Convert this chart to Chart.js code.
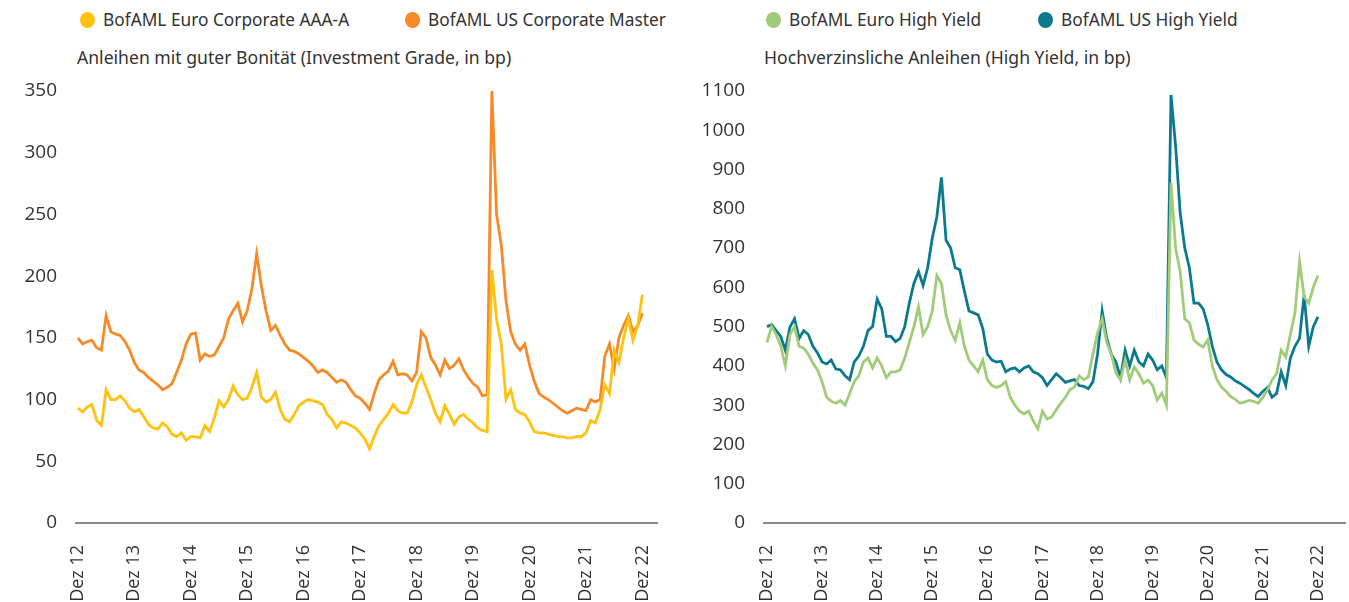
<!DOCTYPE html>
<html lang="de">
<head>
<meta charset="utf-8">
<script src="https://cdn.jsdelivr.net/npm/chart.js@4.4.0/dist/chart.umd.min.js"></script>
<style>
  body { margin: 0; width: 1349px; height: 602px; background: #fff; position: relative; overflow: hidden;
         font-family: "Noto Sans", sans-serif; color: #333; }
  canvas { position: absolute; top: 0; }
  .item { position: absolute; top: 8px; display: flex; align-items: center; font-size: 17.3px; white-space: nowrap; }
  .dot { width: 15px; height: 16px; border-radius: 50%; margin-right: 8px; }
  .sub { position: absolute; top: 45px; font-size: 17.6px; white-space: nowrap; }
</style>
</head>
<body>
<div class="item" style="left:80px"><span class="dot" style="background:#FFC20E"></span>BofAML Euro Corporate AAA-A</div>
<div class="item" style="left:405px"><span class="dot" style="background:#F58A26"></span>BofAML US Corporate Master</div>
<div class="sub" style="left:77px">Anleihen mit guter Bonität (Investment Grade, in bp)</div>
<div class="item" style="left:766px"><span class="dot" style="background:#A0CB78"></span>BofAML Euro High Yield</div>
<div class="item" style="left:1038px"><span class="dot" style="background:#0C7A8E"></span>BofAML US High Yield</div>
<div class="sub" style="left:764px">Hochverzinsliche Anleihen (High Yield, in bp)</div>
<canvas id="igChart" width="680" height="602" style="left:0"></canvas>
<canvas id="hyChart" width="661" height="602" style="left:688px"></canvas>
<script>
// x = months since Dez 12, one value per month (Dez 12 ... Dez 22)
const tickMonths = [0, 12, 24, 36, 48, 60, 72, 84, 96, 108, 120];
const tickLabels = ['Dez 12', 'Dez 13', 'Dez 14', 'Dez 15', 'Dez 16', 'Dez 17', 'Dez 18', 'Dez 19', 'Dez 20', 'Dez 21', 'Dez 22'];

const euroIG = [
  93, 90, 94, 96, 83, 79, 108, 100, 100, 103, 99, 93,
  90, 92, 86, 80, 77, 76, 81, 78, 72, 70, 73, 67,
  70, 70, 69, 79, 74, 85, 99, 94, 100, 111, 104, 100,
  101, 110, 122, 102, 98, 100, 106, 92, 84, 82, 88, 95,
  98, 100, 99, 98, 96, 88, 84, 77, 82, 81, 79, 77,
  73, 68, 60, 70, 79, 84, 89, 96, 91, 89, 89, 98,
  112, 120, 110, 100, 89, 82, 95, 88, 80, 86, 88, 84,
  81, 77, 75, 74, 205, 165, 145, 100, 108, 92, 89, 88,
  82, 74, 73, 73, 72, 71, 70, 70, 69, 69, 70, 70,
  73, 83, 81, 92, 112, 105, 140, 130, 150, 165, 148, 160,
  185
];
const usIG = [
  150, 145, 147, 148, 142, 140, 168, 155, 153, 152, 147, 140,
  130, 124, 122, 118, 115, 112, 108, 110, 113, 122, 132, 145,
  153, 154, 132, 137, 135, 136, 143, 150, 165, 172, 178, 163,
  172, 190, 218, 192, 172, 156, 160, 152, 145, 140, 139, 137,
  134, 131, 127, 122, 124, 122, 118, 114, 116, 114, 108, 103,
  101, 97, 92, 105, 116, 120, 123, 131, 120, 121, 120, 115,
  122, 155, 150, 134, 128, 120, 132, 125, 128, 133, 124, 118,
  113, 110, 103, 104, 350, 250, 225, 180, 155, 145, 140, 145,
  128, 115, 105, 102, 100, 97, 94, 91, 89, 91, 93, 92,
  91, 100, 98, 100, 135, 145, 125, 150, 160, 168, 155, 160,
  170
];
const euroHY = [
  460, 500, 480, 450, 400, 480, 500, 450, 445, 430, 407, 390,
  360, 320, 310, 305, 312, 300, 330, 360, 375, 410, 420, 395,
  420, 400, 370, 385, 385, 390, 420, 460, 500, 550, 480, 500,
  540, 630, 610, 530, 490, 465, 510, 450, 415, 400, 385, 415,
  365, 350, 345, 350, 360, 320, 300, 285, 278, 285, 260, 240,
  285, 265, 270, 288, 305, 320, 340, 346, 375, 365, 372, 430,
  484, 520, 460, 430, 382, 364, 415, 364, 397, 380, 356, 364,
  350, 313, 331, 300, 866, 700, 640, 520, 510, 466, 455, 448,
  466, 400, 365, 346, 335, 322, 315, 305, 308, 312, 310, 305,
  320, 339, 364, 380, 440, 423, 480, 535, 665, 576, 560, 600,
  630
];
const usHY = [
  500, 505, 490, 475, 440, 499, 520, 470, 490, 480, 450, 433,
  410, 405, 415, 392, 390, 375, 365, 410, 425, 450, 490, 500,
  570, 545, 475, 475, 462, 470, 500, 560, 610, 640, 605, 650,
  725, 780, 880, 720, 700, 650, 645, 590, 540, 535, 530, 495,
  430, 415, 410, 412, 385, 392, 395, 385, 395, 400, 385, 380,
  370, 350, 365, 380, 370, 358, 362, 365, 350, 348, 342, 360,
  430, 540, 470, 430, 410, 370, 440, 400, 440, 410, 400, 430,
  415, 390, 400, 370, 1090, 960, 790, 700, 650, 560, 560, 545,
  505, 450, 410, 390, 378, 372, 362, 356, 348, 340, 330, 322,
  335, 345, 320, 330, 385, 350, 420, 450, 470, 580, 450, 500,
  525
];

const textColor = '#333';

function toPoints(values) {
  return values.map((v, i) => ({ x: i, y: v }));
}

// keep the chart area where the reference has it
function noExtraPadding(scale) {
  scale.paddingLeft = 0;
  scale.paddingRight = 0;
  scale.paddingTop = 0;
  scale.paddingBottom = 0;
}

function makeChart(id, series, colors, yMax, yStep, xMin, xMax, padRight) {
  const ctx = document.getElementById(id).getContext('2d');
  return new Chart(ctx, {
    type: 'line',
    data: {
      datasets: series.map((s, i) => ({
        data: toPoints(s),
        borderColor: colors[i],
        backgroundColor: colors[i],
        borderWidth: 2.8,
        pointRadius: 0,
        tension: 0
      }))
    },
    options: {
      responsive: false,
      animation: false,
      layout: { padding: { top: 91, right: padRight, left: 0, bottom: 0 } },
      plugins: { legend: { display: false }, tooltip: { enabled: false } },
      scales: {
        x: {
          type: 'linear',
          min: xMin,
          max: xMax,
          grid: { display: false, drawTicks: false },
          border: { display: true, color: '#8a8a8a', width: 2 },
          afterBuildTicks: (scale) => { scale.ticks = tickMonths.map(v => ({ value: v })); },
          afterFit: (scale) => { scale.height = 79; noExtraPadding(scale); },
          ticks: {
            autoSkip: false,
            minRotation: 90,
            maxRotation: 90,
            padding: 22,
            color: textColor,
            font: { family: 'Open Sans', size: 18 },
            callback: (v) => tickLabels[tickMonths.indexOf(v)]
          }
        },
        y: {
          min: 0,
          max: yMax,
          grid: { display: false, drawTicks: false },
          border: { display: false },
          afterFit: (scale) => { scale.width = 76; noExtraPadding(scale); },
          ticks: {
            stepSize: yStep,
            padding: 19,
            color: textColor,
            font: { family: 'Open Sans', size: 19 },
            callback: (v) => String(v)
          }
        }
      }
    }
  });
}

makeChart('igChart', [euroIG, usIG], ['#FFC20E', '#F58A26'], 350, 50, -0.4, 123.1, 23);
makeChart('hyChart', [euroHY, usHY], ['#A0CB78', '#0C7A8E'], 1100, 100, -0.65, 125.9, 4);
</script>
</body>
</html>
